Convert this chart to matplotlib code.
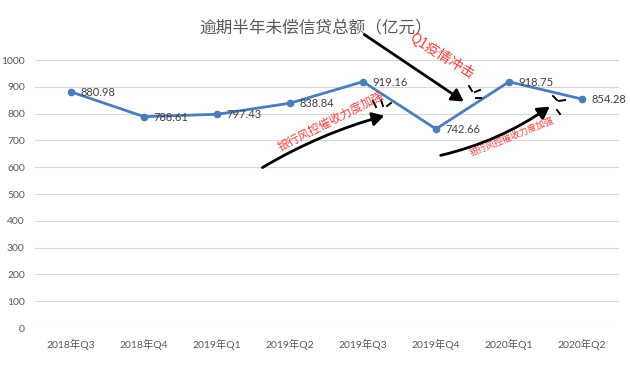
import matplotlib
matplotlib.use("Agg")
import matplotlib.pyplot as plt
from matplotlib.patches import FancyArrowPatch

plt.rcParams['font.family'] = ['Noto Sans CJK SC', 'DejaVu Sans']

categories = ["2018年Q3", "2018年Q4", "2019年Q1", "2019年Q2",
              "2019年Q3", "2019年Q4", "2020年Q1", "2020年Q2"]
values = [880.98, 788.61, 797.43, 838.84, 919.16, 742.66, 918.75, 854.28]
yticks = [0, 100, 200, 300, 400, 500, 600, 700, 800, 900, 1000]
title = "逾期半年未偿信贷总额（亿元）"

W, H = 630, 365
fig = plt.figure(figsize=(W / 100, H / 100), dpi=100)
ax = fig.add_axes([34.5 / W, 1 - 328 / H, 584 / W, 268 / H])

num_font = ["Lato", "Noto Sans CJK SC"]

x = list(range(len(categories)))
ax.plot(x, values, color="#4a7ebb", lw=2.0, marker="o", ms=4.5, zorder=3)
for xi, v in zip(x, values):
    ax.annotate(f"{v:.2f}", (xi, v), xytext=(7, -0.5), textcoords="offset points",
                fontsize=8, color="#404040", va="center", ha="left", zorder=4,
                family=num_font)

ax.set_xlim(-0.5, len(categories) - 0.5)
ax.set_ylim(0, 1000)
ax.set_yticks(yticks)
ax.set_yticklabels([str(t) for t in yticks], fontsize=7.5, color="#595959", family=num_font)
ax.set_xticks(x)
ax.set_xticklabels(categories, fontsize=7.5, color="#595959", family=num_font)
ax.tick_params(axis="y", length=0, pad=7)
ax.tick_params(axis="x", length=0, pad=8)
ax.grid(axis="y", color="#d9d9d9", lw=0.8)
ax.set_axisbelow(True)
for s in ax.spines.values():
    s.set_visible(False)

fig.text(316 / W, 1 - 28 / H, title, ha="center", va="center",
         fontsize=12, color="#595959")

def fpt(px, py):
    return (px / W, 1 - py / H)

# hand-drawn style arrows
arrows = [
    ((362, 33), (466, 103), 0.0),
    ((260, 169), (387, 115), -0.07),
    ((438, 156), (552, 105), 0.1),
]
for (p0, p1, rad) in arrows:
    a = FancyArrowPatch(fpt(*p0), fpt(*p1), transform=fig.transFigure,
                        connectionstyle=f"arc3,rad={rad}",
                        arrowstyle="-|>,head_length=7,head_width=4",
                        color="black", lw=2.0, zorder=5)
    fig.add_artist(a)

# small emphasis strokes near arrow heads
strokes = [
    [((373, 101), (376, 107)), ((381, 100), (383, 106)), ((387, 106), (391, 103))],
    [((469, 86), (472, 91)), ((475, 92), (480, 90)), ((476, 98), (481, 98))],
    [((553, 96), (557, 100)), ((559, 101), (565, 100)), ((557, 110), (560, 114))],
]
for group in strokes:
    for (a0, a1) in group:
        fig.add_artist(plt.Line2D([a0[0] / W, a1[0] / W], [1 - a0[1] / H, 1 - a1[1] / H],
                                  transform=fig.transFigure, color="black", lw=1.4))

red = "#ff3b3b"
fig.text(fpt(442, 0)[0], fpt(0, 56)[1], "Q1疫情冲击", rotation=-32, color=red,
         fontsize=10, ha="center", va="center")
fig.text(fpt(331, 0)[0], fpt(0, 121)[1], "银行风控催收力度加强", rotation=27, color=red,
         fontsize=8.5, ha="center", va="center")
fig.text(fpt(512, 0)[0], fpt(0, 137)[1], "银行风控催收力度加强", rotation=22, color=red,
         fontsize=6.5, ha="center", va="center")

fig.savefig("out.png", dpi=100)
